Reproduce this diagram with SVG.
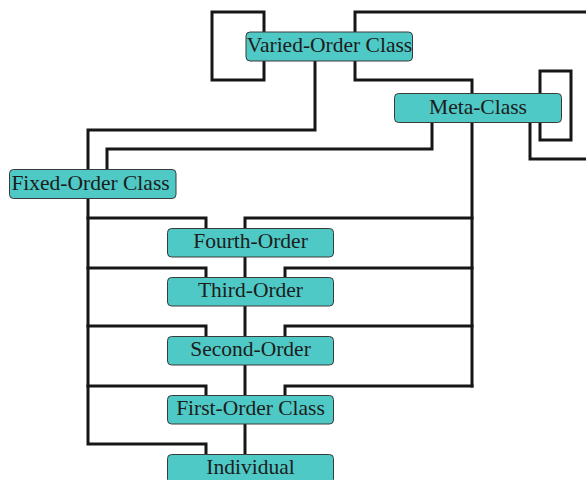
<svg xmlns="http://www.w3.org/2000/svg" width="586" height="480" viewBox="0 0 586 480">
  <style>
    .wire { fill: none; stroke: #161616; stroke-width: 3; stroke-linejoin: miter; stroke-linecap: square; }
    .box { fill: #4ec9c5; stroke: #3a3a3a; stroke-width: 1; }
    .label { font-family: "Liberation Serif", "Times New Roman", serif; font-size: 21.5px; fill: #1c1c1c; text-anchor: middle; }
  </style>
  <rect width="586" height="480" fill="#ffffff"/>

  <g id="connectors">
    <!-- Varied-Order Class self loop (left) -->
    <path class="wire" d="M264,32 V12 H212 V80 H264 V61"/>
    <!-- Varied-Order Class loop leaving to the right -->
    <path class="wire" d="M355,32 V12 H588"/>
    <!-- Varied-Order Class to Meta-Class and right trunk -->
    <path class="wire" d="M355,61 V80 H472 V386"/>
    <!-- Varied-Order Class to left trunk -->
    <path class="wire" d="M315,61 V130 H88 V444 H206 V454"/>
    <!-- Meta-Class self loop -->
    <path class="wire" d="M540,93 V71 H571 V140 H540 V123"/>
    <!-- Meta-Class loop leaving to the right -->
    <path class="wire" d="M530,123 V159 H588"/>
    <!-- Meta-Class to Fixed-Order Class -->
    <path class="wire" d="M432,123 V149 H107 V170"/>
    <!-- left trunk branches -->
    <path class="wire" d="M88,218 H206 V228"/>
    <path class="wire" d="M88,268 H206 V277"/>
    <path class="wire" d="M88,326 H206 V336"/>
    <path class="wire" d="M88,386 H206 V395"/>
    <!-- right trunk branches -->
    <path class="wire" d="M472,218 H245 V228"/>
    <path class="wire" d="M472,268 H285 V277"/>
    <path class="wire" d="M472,326 H285 V336"/>
    <path class="wire" d="M472,386 H285 V395"/>
    <!-- central chain -->
    <path class="wire" d="M245,257 V277"/>
    <path class="wire" d="M245,306 V336"/>
    <path class="wire" d="M245,365 V395"/>
    <path class="wire" d="M245,424 V454"/>
  </g>

  <g id="varied-order-class">
    <rect class="box" x="246" y="32" width="166.5" height="29" rx="4"/>
    <text class="label" x="329.5" y="52">Varied-Order Class</text>
  </g>
  <g id="meta-class">
    <rect class="box" x="394.5" y="93.5" width="167" height="29" rx="4"/>
    <text class="label" x="478" y="114">Meta-Class</text>
  </g>
  <g id="fixed-order-class">
    <rect class="box" x="9.5" y="169.5" width="166.5" height="29" rx="4"/>
    <text class="label" x="90.5" y="190">Fixed-Order Class</text>
  </g>
  <g id="fourth-order">
    <rect class="box" x="167.5" y="228.5" width="166" height="28.5" rx="4"/>
    <text class="label" x="250.5" y="248">Fourth-Order</text>
  </g>
  <g id="third-order">
    <rect class="box" x="167.5" y="277.5" width="166" height="28.5" rx="4"/>
    <text class="label" x="250.5" y="297">Third-Order</text>
  </g>
  <g id="second-order">
    <rect class="box" x="167.5" y="336.5" width="166" height="28.5" rx="4"/>
    <text class="label" x="250.5" y="356">Second-Order</text>
  </g>
  <g id="first-order-class">
    <rect class="box" x="167.5" y="395.5" width="166" height="28.5" rx="4"/>
    <text class="label" x="250.5" y="415">First-Order Class</text>
  </g>
  <g id="individual">
    <rect class="box" x="167.5" y="454.5" width="166" height="29" rx="4"/>
    <text class="label" x="250.5" y="474">Individual</text>
  </g>
</svg>
